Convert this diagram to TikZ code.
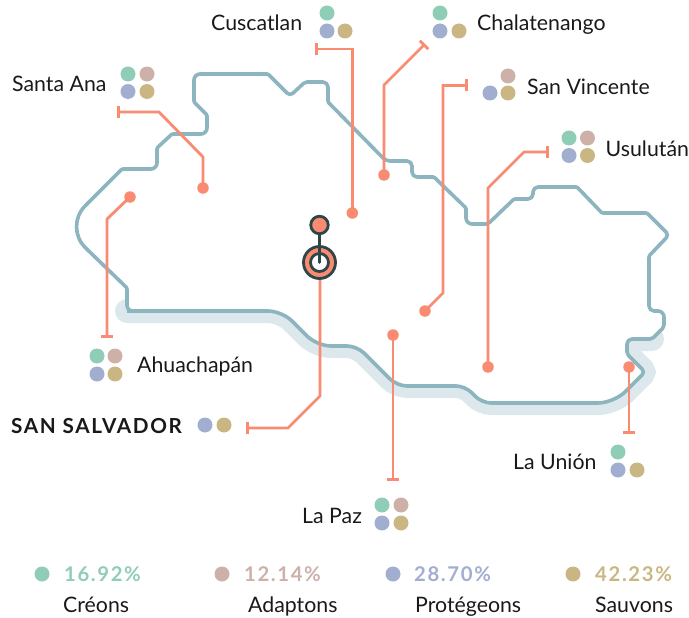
\documentclass[tikz,border=0pt]{standalone}
\usepackage{fontspec}
\setmainfont{Lato}
\newfontfamily\spaced[LetterSpace=8]{Lato}
\usetikzlibrary{arrows.meta}
\definecolor{coast}{HTML}{8DB5C0}
\definecolor{sea}{HTML}{DDE8EC}
\definecolor{lead}{HTML}{F88B72}
\definecolor{dark}{HTML}{2F4548}
\definecolor{cgreen}{HTML}{8FCDB6}
\definecolor{crose}{HTML}{CDB1A9}
\definecolor{cblue}{HTML}{A2AED0}
\definecolor{cgold}{HTML}{C9B683}
\tikzset{
  x=1pt,y=-1pt,
  spot/.style={circle,inner sep=0pt,minimum size=15pt},
  sg/.style={spot,fill=cgreen},
  sr/.style={spot,fill=crose},
  sb/.style={spot,fill=cblue},
  sy/.style={spot,fill=cgold},
  leaddot/.style={circle,inner sep=0pt,minimum size=11.5pt,fill=lead},
  leader/.style={draw=lead,line width=2.8pt,-{Bar[width=12pt,length=2.6pt]}},
  place/.style={anchor=base west,inner sep=0pt,font=\fontsize{21.3}{24}\selectfont,text=black!90},
  pct/.style={anchor=base west,inner sep=0pt,font=\spaced\bfseries\fontsize{20.3}{24}\selectfont},
  capital/.style={anchor=base west,inner sep=0pt,font=\spaced\bfseries\fontsize{20.7}{24}\selectfont,text=black!90},
  mark ring/.style={circle,draw=dark,line width=2.8pt,inner sep=0pt},
}
\newcommand{\shorepath}{(127,311)
 [rounded corners=14pt] -- (282,311) -- (317,346)
 [rounded corners=10pt] -- (357,346) -- (397,386)
 [rounded corners=9pt] -- (465,386) -- (482,403)
 [rounded corners=16pt] -- (614,403)
 [rounded corners=4pt] -- (645,372)
 [rounded corners=2pt] -- (627,354)
 [rounded corners=5pt] -- (627,339)
 [rounded corners=2pt] -- (652,339)}
\newcommand{\landpath}{
 -- (664,327)
 [rounded corners=6pt] -- (664,311)
 [rounded corners=5pt] -- (649,311)
 [rounded corners=1pt] -- (649,256)
 [rounded corners=4pt] -- (669,235)
 [rounded corners=1pt] -- (647,213) -- (602,213) -- (577,187)
 [rounded corners=5pt] -- (533,187) -- (533,199)
 [rounded corners=1pt] -- (514,199)
 [rounded corners=2pt] -- (488,224)
 [rounded corners=6pt] -- (466,224)
 [rounded corners=1pt] -- (466,208) -- (434,177)
 [rounded corners=5pt] -- (412,177) -- (412,161)
 [rounded corners=4pt] -- (386,161)
 [rounded corners=1pt] -- (328,102)
 [rounded corners=5pt] -- (328,82)
 [rounded corners=2pt] -- (305,82)
 [rounded corners=4pt] -- (290,96)
 [rounded corners=1pt] -- (268,74)
 [rounded corners=6pt] -- (194,74)
 [rounded corners=1pt] -- (194,102) -- (207,115)
 [rounded corners=6pt] -- (207,134)
 [rounded corners=1pt] -- (172,134) -- (157,148)
 [rounded corners=6pt] -- (157,169)
 [rounded corners=1pt] -- (122,169)
 [rounded corners=30pt] -- (64,227)
 [rounded corners=1pt] -- (127,288)
 [rounded corners=5pt] -- (127,311) -- (140,311)}
\begin{document}
\begin{tikzpicture}
\useasboundingbox (0,0) rectangle (689,618);
% sea band and land
\draw[sea,line width=24pt,line cap=round] (133,311) \shorepath;
\fill[white] \shorepath \landpath -- cycle;
\draw[coast,line width=3.6pt,line join=round] \shorepath \landpath;

% leader ends
\node[leaddot] (dSantaAna) at (203,188) {};
\node[leaddot] (dAhua) at (130,197) {};
\node[leaddot] (dCusc) at (352.3,213) {};
\node[leaddot] (dChal) at (384,175) {};
\node[leaddot] (dVinc) at (425,311) {};
\node[leaddot] (dUsul) at (488,367) {};
\node[leaddot] (dUnion) at (629,367) {};
\node[leaddot] (dPaz) at (393,335) {};
\coordinate (hub) at (320,262);
\coordinate (tSantaAna) at (117,112);
\coordinate (tAhua) at (107,338);
\coordinate (tCusc) at (315,49);
\coordinate (tChal) at (425,44);
\coordinate (tVinc) at (467.5,85.5);
\coordinate (tUsul) at (549,152);
\coordinate (tUnion) at (629,434);
\coordinate (tPaz) at (393,481);
\coordinate (tSalv) at (246,428);

\draw[leader] (dSantaAna.center) -- (203,157) -- (159,112) -- (tSantaAna);
\draw[leader] (dAhua.center) -- (107,219) -- (tAhua);
\draw[leader] (dCusc.center) -- (352.3,49) -- (tCusc);
\draw[leader] (dChal.center) -- (384,85) -- (tChal);
\draw[leader] (dVinc.center) -- (443,293) -- (443,85.5) -- (tVinc);
\draw[leader] (dUsul.center) -- (488,188) -- (524,152) -- (tUsul);
\draw[leader] (dUnion.center) -- (tUnion);
\draw[leader] (dPaz.center) -- (tPaz);
\draw[leader] (hub) -- (320,396) -- (288,428) -- (tSalv);

% capital marker
\node[mark ring,fill=lead,minimum size=32pt] (ring) at (319.5,262.5) {};
\node[mark ring,fill=white,minimum size=18pt] (ringin) at (319.5,262.5) {};
\node[mark ring,fill=lead,minimum size=17.5pt] (top) at (319.5,225) {};
\draw[dark,line width=2.8pt,line cap=round] (top) -- (ringin.center);

% labels and spots
\node[place] (lSantaAna) at (12,91.5) {Santa Ana};
\node[sg] (a1) at (128,74) {}; \node[sr] (a2) at (147,74) {}; \node[sb] (a3) at (128,91.5) {}; \node[sy] (a4) at (147,91.5) {};
\node[place] (lCusc) at (211,30.5) {Cuscatlan};
\node[sg] (b1) at (327,13) {}; \node[sb] (b2) at (327,31) {}; \node[sy] (b3) at (345,31) {};
\node[place] (lChal) at (477,30.5) {Chalatenango};
\node[sg] (c1) at (440,13) {}; \node[sb] (c2) at (440,31) {}; \node[sy] (c3) at (459,31) {};
\node[place] (lVinc) at (527,94.5) {San Vincente};
\node[sr] (d1) at (508,76) {}; \node[sb] (d2) at (490,93) {}; \node[sy] (d3) at (508,93) {};
\node[place] (lUsul) at (605.5,156.5) {Usulután};
\node[sg] (e1) at (569,138) {}; \node[sr] (e2) at (587.5,138) {}; \node[sb] (e3) at (569,155.5) {}; \node[sy] (e4) at (587.5,155.5) {};
\node[place] (lAhua) at (137,372.5) {Ahuachapán};
\node[sg] (f1) at (97,356) {}; \node[sr] (f2) at (115,356) {}; \node[sb] (f3) at (97,374) {}; \node[sy] (f4) at (115,374) {};
\node[capital] (lSalv) at (11,433) {SAN SALVADOR};
\node[sb] (g1) at (205,425) {}; \node[sy] (g2) at (224,425) {};
\node[place] (lUnion) at (513,469.5) {La Unión};
\node[sg] (h1) at (618,452) {}; \node[sb] (h2) at (618,470) {}; \node[sy] (h3) at (637,470) {};
\node[place] (lPaz) at (302,523.5) {La Paz};
\node[sg] (i1) at (382,505) {}; \node[sr] (i2) at (401,505) {}; \node[sb] (i3) at (382,523) {}; \node[sy] (i4) at (401,523) {};

% legend
\node[sg] (k1) at (42,574) {};
\node[pct,text=cgreen] (p1) at (64,581) {16.92\%};
\node[place] (n1) at (63,612) {Créons};
\node[sr] (k2) at (222,574) {};
\node[pct,text=crose] (p2) at (244,581) {12.14\%};
\node[place] (n2) at (248,612) {Adaptons};
\node[sb] (k3) at (393,574) {};
\node[pct,text=cblue] (p3) at (414,581) {28.70\%};
\node[place] (n3) at (415,612) {Protégeons};
\node[sy] (k4) at (573,574) {};
\node[pct,text=cgold] (p4) at (595,581) {42.23\%};
\node[place] (n4) at (595,612) {Sauvons};
\end{tikzpicture}
\end{document}
